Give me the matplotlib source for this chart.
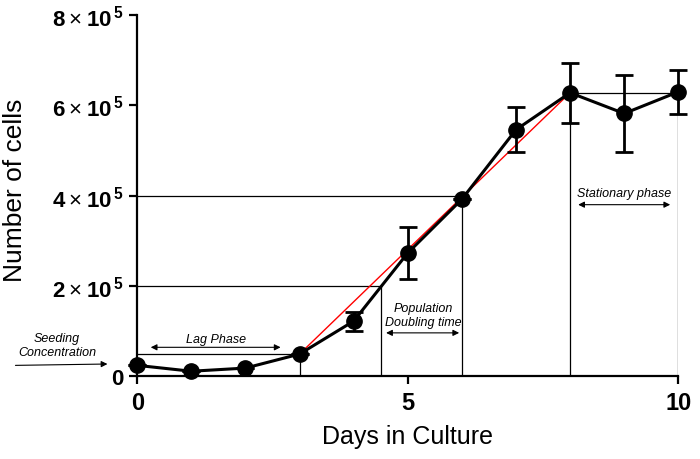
import numpy as np
import matplotlib
matplotlib.use("Agg")
import matplotlib.pyplot as plt

plt.rcParams['font.family'] = ['Liberation Sans', 'DejaVu Sans']
plt.rcParams['mathtext.fontset'] = 'custom'
plt.rcParams['mathtext.rm'] = 'Liberation Sans'
plt.rcParams['mathtext.bf'] = 'Liberation Sans:bold'

# growth curve data
days = [0, 1, 2, 3, 4, 5, 6, 7, 8, 9, 10]
cells = [0.24e5, 0.11e5, 0.18e5, 0.49e5, 1.22e5, 2.73e5, 3.92e5, 5.46e5, 6.28e5, 5.82e5, 6.30e5]
errors = [0, 0, 0, 0, 0.21e5, 0.58e5, 0, 0.50e5, 0.66e5, 0.86e5, 0.49e5]

# linear fit of log phase (red line)
fit_x = [3, 8]
fit_y = [0.49e5, 6.28e5]

yticks = [0, 2e5, 4e5, 6e5, 8e5]
ytick_labels = ['0'] + [r'$\mathbf{%d}\times\mathbf{10}^{\,\mathbf{5}}$' % n for n in (2, 4, 6, 8)]
xticks = [0, 5, 10]

fig = plt.figure(figsize=(7, 4.6), dpi=100)
ax = fig.add_axes([0.196, 0.180, 0.773, 0.785])

# guide lines
lw_g = 0.9
ax.plot([0, 3], [cells[3], cells[3]], color='black', lw=lw_g)
ax.plot([3, 3], [0, cells[3]], color='black', lw=lw_g)
ax.plot([0, 4.5], [2e5, 2e5], color='black', lw=lw_g)
ax.plot([4.5, 4.5], [0, 2e5], color='black', lw=lw_g)
ax.plot([0, 6], [4e5, 4e5], color='black', lw=lw_g)
ax.plot([6, 6], [0, 4e5], color='black', lw=lw_g)
ax.plot([8, 10], [cells[8], cells[8]], color='black', lw=lw_g)
ax.plot([8, 8], [0, cells[8]], color='black', lw=lw_g)
ax.plot([10, 10], [0, cells[10]], color='black', lw=lw_g)

ax.plot(fit_x, fit_y, color='red', lw=1.0, zorder=3)

ax.errorbar(days, cells, yerr=errors, color='black', lw=2.2, marker='o', markersize=11,
            ecolor='black', elinewidth=2, capsize=6.5, capthick=2, zorder=4, clip_on=False)

# phase annotations
arrow = dict(arrowstyle='<|-|>', color='black', lw=0.8, mutation_scale=9, shrinkA=0, shrinkB=0)
ax.annotate('', xy=(0.25, 0.64e5), xytext=(2.65, 0.64e5), arrowprops=arrow)
ax.text(1.45, 0.70e5, 'Lag Phase', style='italic', fontsize=9, ha='center', va='bottom')
ax.annotate('', xy=(4.6, 0.96e5), xytext=(5.95, 0.96e5), arrowprops=arrow)
ax.text(5.28, 1.06e5, 'Population\nDoubling time', style='italic', fontsize=9,
        ha='center', va='bottom', linespacing=1.3)
ax.annotate('', xy=(8.15, 3.80e5), xytext=(9.85, 3.80e5), arrowprops=arrow)
ax.text(9.0, 3.93e5, 'Stationary phase', style='italic', fontsize=9, ha='center', va='bottom')
ax.text(-1.48, 0.69e5, 'Seeding\nConcentration', style='italic', fontsize=9,
        ha='center', va='center', linespacing=1.3, clip_on=False)
ax.annotate('', xy=(-0.55, 0.27e5), xytext=(-2.25, 0.24e5), annotation_clip=False,
            arrowprops=dict(arrowstyle='-|>', color='black', lw=0.8, mutation_scale=9,
                            shrinkA=0, shrinkB=0))

ax.set_xlim(0, 10)
ax.set_ylim(0, 8e5)
ax.set_xticks(xticks)
ax.set_xticklabels([str(t) for t in xticks], fontsize=17, fontweight='bold')
ax.set_yticks(yticks)
ax.set_yticklabels(ytick_labels, fontsize=16, fontweight='bold')
ax.spines['top'].set_visible(False)
ax.spines['right'].set_visible(False)
ax.spines['left'].set_linewidth(1.6)
ax.spines['bottom'].set_linewidth(1.6)
ax.tick_params(direction='out', length=6, width=1.6, pad=4)
ax.tick_params(axis='x', pad=5)
ax.set_xlabel('Days in Culture', fontsize=18, labelpad=7)
ax.set_ylabel('Number of cells', fontsize=19)
ax.yaxis.set_label_coords(-0.203, 0.518)

fig.savefig('out.png', dpi=100)
